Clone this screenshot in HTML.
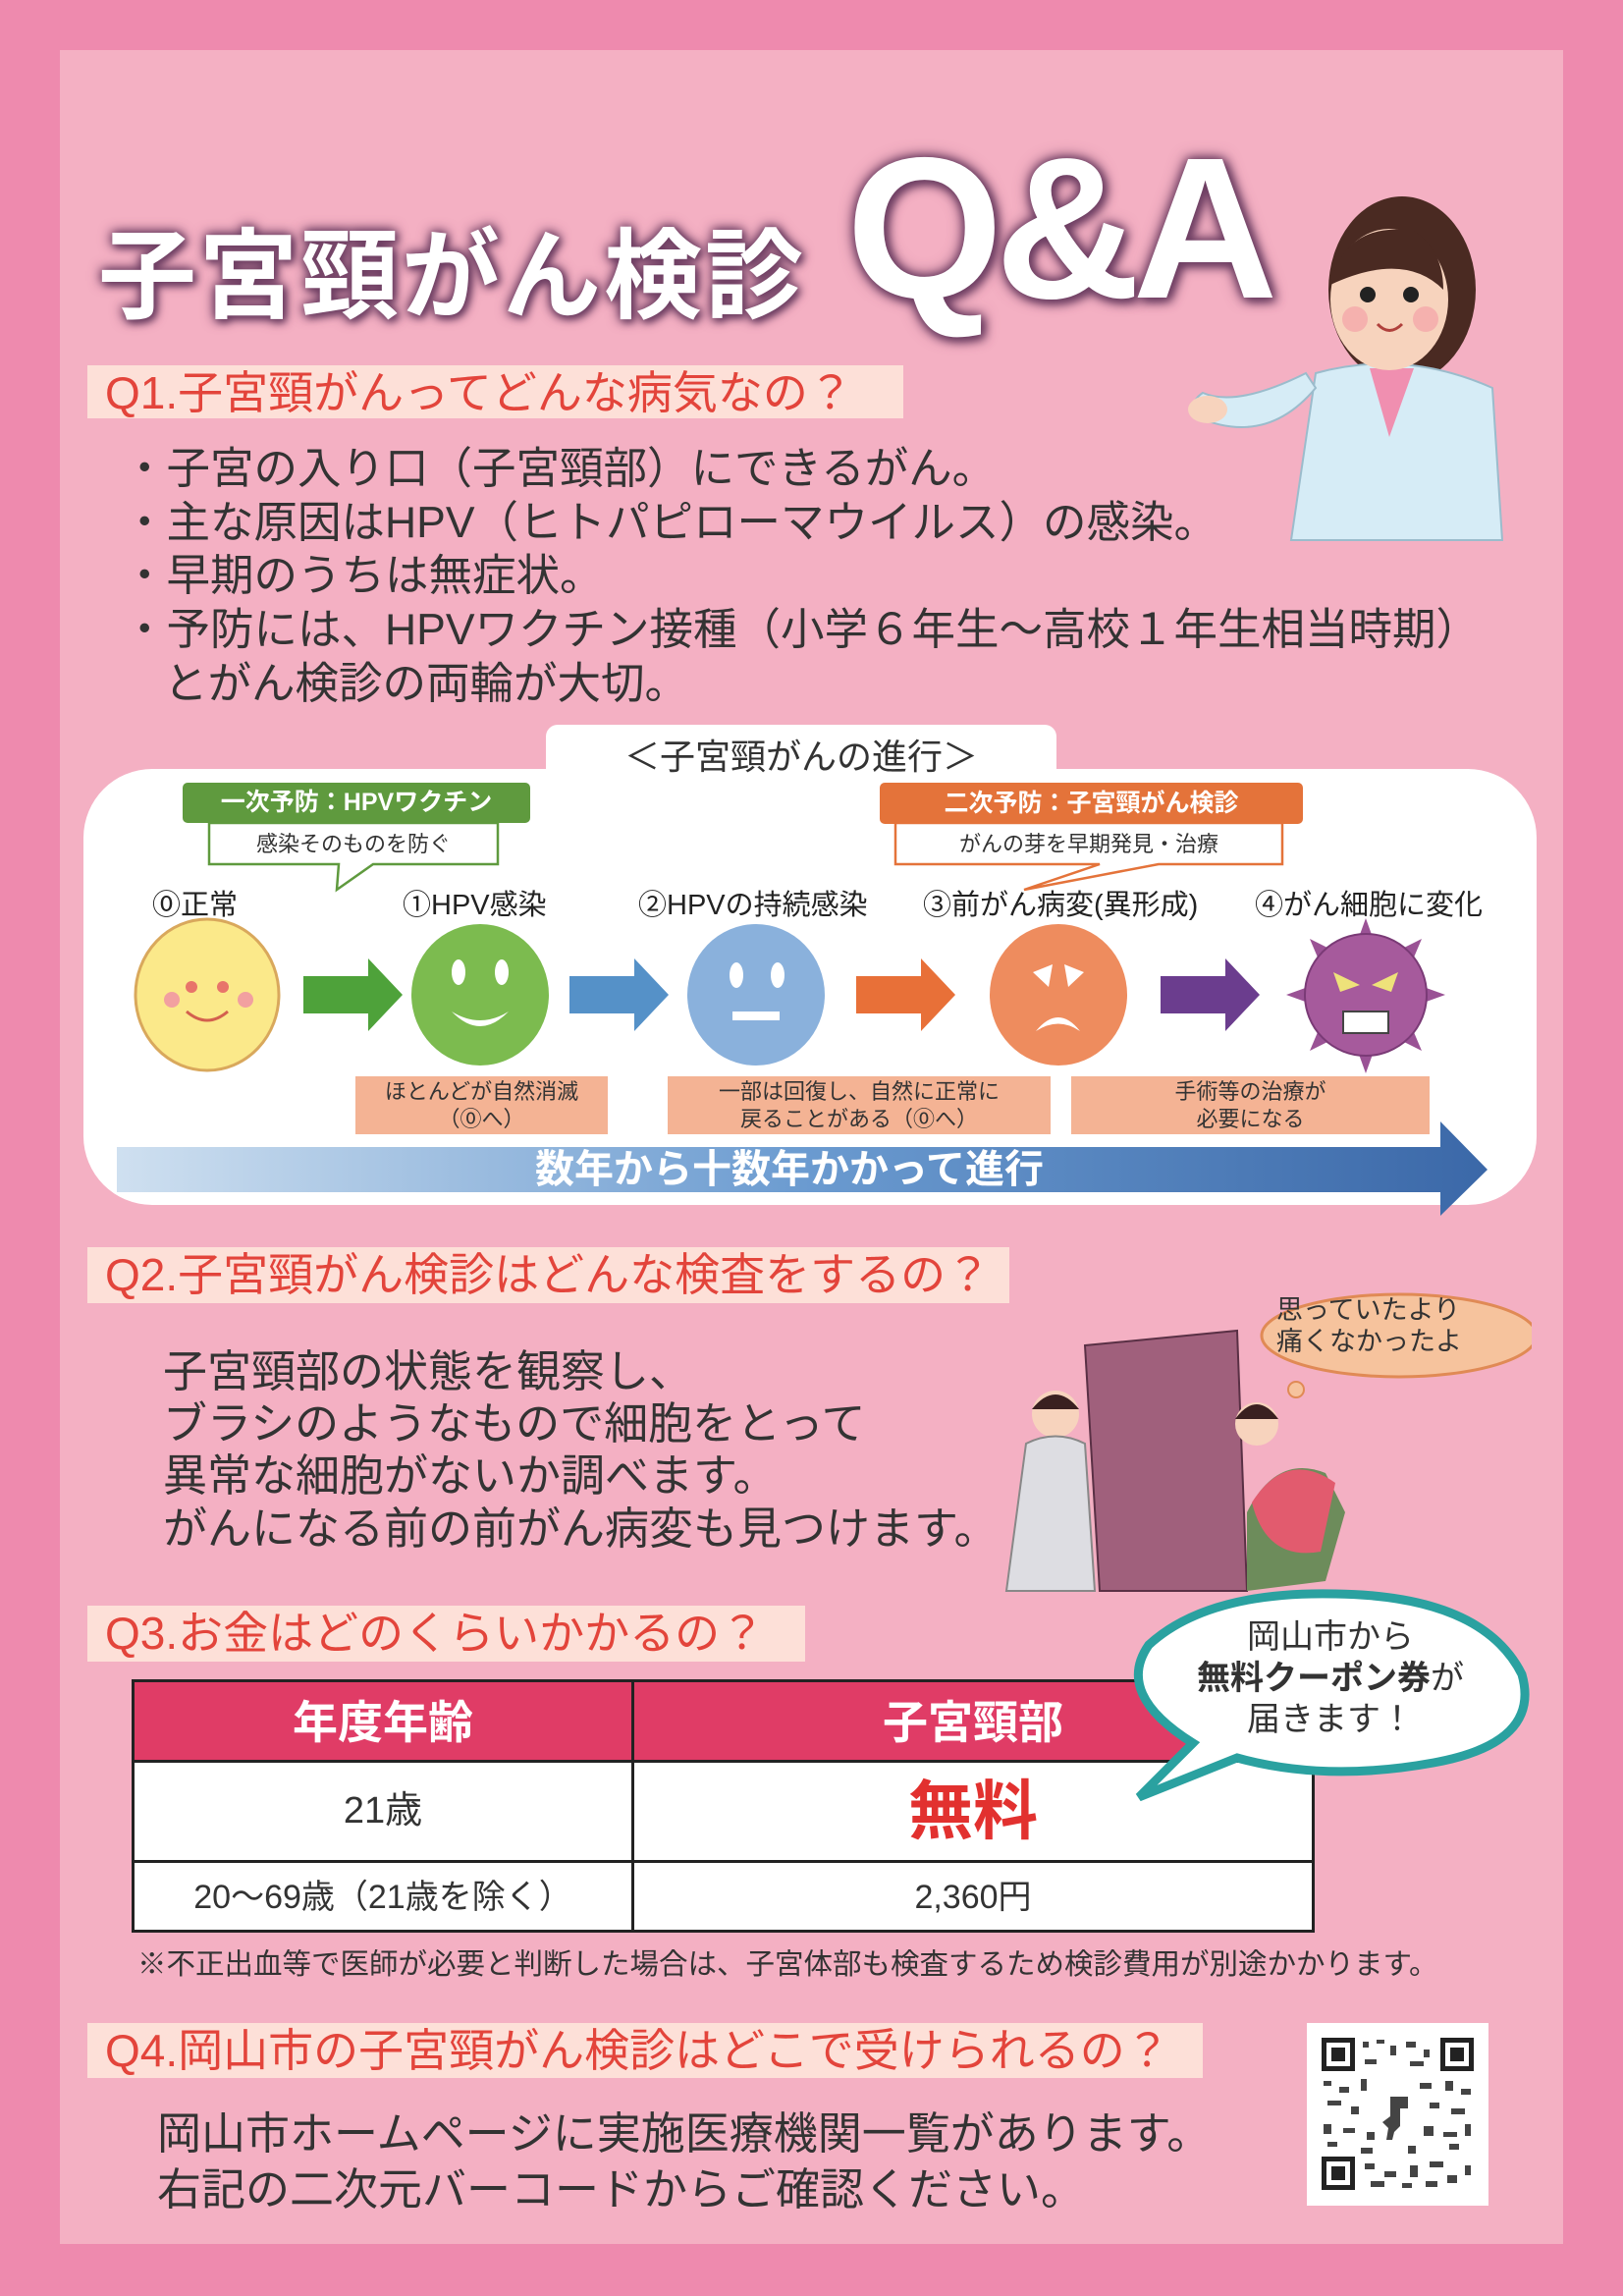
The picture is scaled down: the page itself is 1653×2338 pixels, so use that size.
<!DOCTYPE html>
<html><head><meta charset="utf-8">
<style>
*{margin:0;padding:0;box-sizing:border-box}
body{width:1653px;height:2338px;background:#ee8aae;position:relative;overflow:hidden;font-family:"Liberation Sans","Noto Sans CJK JP",sans-serif;color:#333}
.a{position:absolute;white-space:nowrap}
#panel{position:absolute;left:61px;top:51px;width:1531px;height:2234px;background:#f4b0c3}
.qh{position:absolute;background:#fde0d8;color:#e3443b;font-size:46px;line-height:56px;padding-left:18px}
.bl{font-size:44.5px;color:#333}
.t{font-size:45px;color:#333}
.stage{font-size:29px;color:#222}
.peach{position:absolute;background:#f4b394;color:#333;font-size:22px;text-align:center;line-height:28px;display:flex;align-items:center;justify-content:center}
</style></head><body>
<div id="panel"></div>

<!-- Title -->
<div class="a" style="left:100px;top:200px;font-size:100px;font-weight:bold;color:#fff;text-shadow:0 0 10px #6e3f63,0 0 14px #6e3f63,3px 3px 8px #6e3f63;letter-spacing:3px">子宮頸がん検診</div>
<div class="a" style="left:862px;top:130px;font-size:205px;font-weight:bold;color:#fff;line-height:205px;text-shadow:0 0 10px #6e3f63,0 0 16px #6e3f63,4px 4px 10px #6e3f63;letter-spacing:-8px">Q&amp;A</div>

<!-- doctor -->
<svg class="a" style="left:1200px;top:195px" width="340" height="360" viewBox="0 0 340 360">
<ellipse cx="228" cy="100" rx="75" ry="95" fill="#4a2a22"/>
<path d="M140 185 L115 355 L330 355 L320 200 Q230 160 140 185Z" fill="#d6ecf6" stroke="#9bbccc" stroke-width="2"/>
<path d="M195 180 L215 250 L240 180Z" fill="#f08fb0"/>
<ellipse cx="215" cy="110" rx="60" ry="72" fill="#f7d3bd"/>
<path d="M155 95 Q170 30 240 40 Q270 60 270 100 Q230 60 155 95Z" fill="#4a2a22"/>
<circle cx="193" cy="105" r="8" fill="#222"/><circle cx="237" cy="105" r="8" fill="#222"/>
<circle cx="180" cy="130" r="13" fill="#f3a3a8" opacity=".7"/><circle cx="252" cy="130" r="13" fill="#f3a3a8" opacity=".7"/>
<path d="M203 135 Q215 148 228 135" stroke="#b0403c" stroke-width="3" fill="none"/>
<path d="M140 200 Q90 260 20 230 Q10 215 25 205 Q60 220 130 185Z" fill="#d6ecf6" stroke="#9bbccc" stroke-width="2"/>
<ellipse cx="30" cy="222" rx="20" ry="14" fill="#f7d3bd"/>
</svg>

<!-- Q1 -->
<div class="qh" style="left:89px;top:372px;width:831px;height:54px">Q1.子宮頸がんってどんな病気なの？</div>
<div class="a bl" style="left:125px;top:440px">・子宮の入り口（子宮頸部）にできるがん。</div>
<div class="a bl" style="left:125px;top:495px">・主な原因はHPV（ヒトパピローマウイルス）の感染。</div>
<div class="a bl" style="left:125px;top:549px">・早期のうちは無症状。</div>
<div class="a bl" style="left:125px;top:604px">・予防には、HPVワクチン接種（小学６年生～高校１年生相当時期）</div>
<div class="a bl" style="left:167px;top:659px">とがん検診の両輪が大切。</div>

<!-- progression box -->
<div class="a" style="left:556px;top:738px;width:520px;height:70px;background:#fff;border-radius:12px 12px 0 0"></div>
<div class="a" style="left:85px;top:783px;width:1480px;height:444px;background:#fff;border-radius:70px"></div>
<div class="a" style="left:556px;top:742px;width:520px;text-align:center;font-size:36px;color:#333">＜子宮頸がんの進行＞</div>

<svg class="a" style="left:0;top:0" width="1653" height="1260">
<path d="M213 838 L507 838 L507 880 L380 880 L343 906 L345 880 L213 880Z" fill="#fff" stroke="#5f9a3e" stroke-width="2.5"/>
<rect x="186" y="797" width="354" height="41" rx="5" fill="#5f9a3e"/>
<path d="M912 838 L1306 838 L1306 880 L1180 880 L1043 906 L1120 880 L912 880Z" fill="#fff" stroke="#e4733a" stroke-width="2.5"/>
<rect x="896" y="797" width="431" height="42" rx="5" fill="#e4733a"/>
<path d="M309 994 L375 994 L375 976 L410 1013 L375 1050 L375 1032 L309 1032Z" fill="#4ea23a"/>
<path d="M580 994 L646 994 L646 976 L681 1013 L646 1050 L646 1032 L580 1032Z" fill="#5591c8"/>
<path d="M872 994 L938 994 L938 976 L973 1013 L938 1050 L938 1032 L872 1032Z" fill="#e87038"/>
<path d="M1182 994 L1248 994 L1248 976 L1283 1013 L1248 1050 L1248 1032 L1182 1032Z" fill="#6b3d8e"/>
<ellipse cx="211" cy="1013" rx="73" ry="77" fill="#fbe98a" stroke="#d9a85c" stroke-width="3"/>
<circle cx="175" cy="1018" r="8" fill="#f2a0a0"/><circle cx="250" cy="1018" r="8" fill="#f2a0a0"/>
<circle cx="195" cy="1005" r="6" fill="#e8746a"/><circle cx="227" cy="1005" r="6" fill="#e8746a"/>
<path d="M190 1030 Q211 1048 232 1030" stroke="#d3604e" stroke-width="3" fill="none"/>
<ellipse cx="489" cy="1013" rx="70" ry="72" fill="#7cbb4f"/>
<ellipse cx="467" cy="990" rx="7" ry="13" fill="#fff"/><ellipse cx="511" cy="990" rx="7" ry="13" fill="#fff"/>
<path d="M460 1030 Q489 1060 518 1030 Q489 1048 460 1030Z" fill="#fff"/>
<ellipse cx="770" cy="1013" rx="70" ry="72" fill="#8ab1dc"/>
<ellipse cx="750" cy="993" rx="7" ry="13" fill="#fff"/><ellipse cx="792" cy="993" rx="7" ry="13" fill="#fff"/>
<rect x="746" y="1030" width="48" height="9" fill="#fff"/>
<ellipse cx="1078" cy="1013" rx="70" ry="72" fill="#ee8c5e"/>
<path d="M1052 990 L1072 982 L1068 1005Z M1104 990 L1084 982 L1088 1005Z" fill="#fff"/>
<path d="M1055 1050 Q1078 1022 1100 1050 Q1078 1035 1055 1050Z" fill="#fff"/>
<g fill="#9a5295">
<polygon points="1391,935 1400,960 1382,960"/><polygon points="1391,1093 1400,1068 1382,1068"/>
<polygon points="1310,1013 1335,1004 1335,1022"/><polygon points="1472,1013 1447,1004 1447,1022"/>
<polygon points="1334,956 1358,968 1345,982"/><polygon points="1448,956 1424,968 1437,982"/>
<polygon points="1334,1070 1358,1058 1345,1044"/><polygon points="1448,1070 1424,1058 1437,1044"/>
</g>
<circle cx="1391" cy="1013" r="62" fill="#a65a9c" stroke="#7a3a76" stroke-width="2"/>
<path d="M1358 990 L1385 1003 L1365 1010Z M1424 990 L1397 1003 L1417 1010Z" fill="#eee27a"/>
<rect x="1368" y="1030" width="46" height="22" fill="#fff" stroke="#444" stroke-width="2"/>
<defs><linearGradient id="g" x1="0" x2="1"><stop offset="0" stop-color="#cfe0f0"/><stop offset=".5" stop-color="#6b9bd0"/><stop offset="1" stop-color="#3b68a8"/></linearGradient></defs>
<path d="M119 1168 L1467 1168 L1467 1142 L1515 1191 L1467 1238 L1467 1214 L119 1214Z" fill="url(#g)"/>
</svg>
<div class="a" style="left:186px;top:797px;width:354px;line-height:41px;text-align:center;color:#fff;font-weight:bold;font-size:25px">一次予防：HPVワクチン</div>
<div class="a" style="left:213px;top:840px;width:294px;line-height:40px;text-align:center;font-size:22px">感染そのものを防ぐ</div>
<div class="a" style="left:896px;top:797px;width:431px;line-height:42px;text-align:center;color:#fff;font-weight:bold;font-size:25px">二次予防：子宮頸がん検診</div>
<div class="a" style="left:912px;top:840px;width:394px;line-height:40px;text-align:center;font-size:22px">がんの芽を早期発見・治療</div>

<div class="a stage" style="left:155px;top:898px">⓪正常</div>
<div class="a stage" style="left:410px;top:898px">①HPV感染</div>
<div class="a stage" style="left:650px;top:898px">②HPVの持続感染</div>
<div class="a stage" style="left:940px;top:898px">③前がん病変(異形成)</div>
<div class="a stage" style="left:1278px;top:898px">④がん細胞に変化</div>

<div class="peach" style="left:362px;top:1096px;width:257px;height:59px">ほとんどが自然消滅<br>（⓪へ）</div>
<div class="peach" style="left:680px;top:1096px;width:390px;height:59px">一部は回復し、自然に正常に<br>戻ることがある（⓪へ）</div>
<div class="peach" style="left:1091px;top:1096px;width:365px;height:59px">手術等の治療が<br>必要になる</div>
<div class="a" style="left:545px;top:1167px;font-size:40px;font-weight:bold;color:#fff;line-height:48px">数年から十数年かかって進行</div>

<!-- Q2 -->
<div class="qh" style="left:89px;top:1270px;width:939px;height:57px;line-height:57px">Q2.子宮頸がん検診はどんな検査をするの？</div>
<div class="a t" style="left:166px;top:1360px">子宮頸部の状態を観察し、</div>
<div class="a t" style="left:166px;top:1413px">ブラシのようなもので細胞をとって</div>
<div class="a t" style="left:166px;top:1466px">異常な細胞がないか調べます。</div>
<div class="a t" style="left:166px;top:1520px">がんになる前の前がん病変も見つけます。</div>
<svg class="a" style="left:1020px;top:1300px" width="540" height="330" viewBox="0 0 540 330">
<ellipse cx="405" cy="60" rx="140" ry="42" fill="#f6c39d" stroke="#e08a55" stroke-width="3"/>
<circle cx="300" cy="115" r="8" fill="#f6c39d" stroke="#e08a55" stroke-width="2"/>
<path d="M85 70 L240 55 L250 320 L100 320Z" fill="#a0607c" stroke="#5a3045" stroke-width="2"/>
<path d="M250 240 Q280 180 330 200 L350 240 L330 310 L250 320Z" fill="#6d8c5b"/>
<path d="M255 230 Q290 175 340 210 L325 280 Q270 290 255 230Z" fill="#e25b6e"/>
<circle cx="260" cy="150" r="22" fill="#f7d3bd"/><path d="M238 145 Q260 115 282 145Z" fill="#3a2020"/>
<circle cx="55" cy="140" r="24" fill="#f7d3bd"/><path d="M31 135 Q55 105 79 135Z" fill="#3a2020"/>
<path d="M25 170 Q55 155 85 170 L95 320 L5 320Z" fill="#dddde2" stroke="#888" stroke-width="2"/>
</svg>
<div class="a" style="left:1300px;top:1318px;font-size:27px;line-height:32px;color:#333">思っていたより<br>痛くなかったよ</div>

<!-- Q3 -->
<div class="qh" style="left:89px;top:1635px;width:731px;height:57px;line-height:57px">Q3.お金はどのくらいかかるの？</div>
<div class="a" style="left:134px;top:1710px;width:1205px;height:258px;border:3px solid #222;background:#fff"></div>
<div class="a" style="left:137px;top:1713px;width:1199px;height:79px;background:#e03c66"></div>
<div class="a" style="left:643px;top:1710px;width:3px;height:258px;background:#222"></div>
<div class="a" style="left:134px;top:1792px;width:1205px;height:3px;background:#222"></div>
<div class="a" style="left:134px;top:1894px;width:1205px;height:3px;background:#222"></div>
<div class="a" style="left:137px;top:1716px;width:506px;text-align:center;font-size:46px;line-height:76px;color:#fff;font-weight:bold">年度年齢</div>
<div class="a" style="left:646px;top:1716px;width:690px;text-align:center;font-size:46px;line-height:76px;color:#fff;font-weight:bold">子宮頸部</div>
<div class="a" style="left:137px;top:1795px;width:506px;text-align:center;font-size:38px;line-height:99px">21歳</div>
<div class="a" style="left:646px;top:1795px;width:690px;text-align:center;font-size:66px;line-height:99px;color:#e2312f;font-weight:bold">無料</div>
<div class="a" style="left:137px;top:1897px;width:506px;text-align:center;font-size:34px;line-height:70px">20～69歳（21歳を除く）</div>
<div class="a" style="left:646px;top:1897px;width:690px;text-align:center;font-size:34px;line-height:70px">2,360円</div>
<svg class="a" style="left:1130px;top:1615px" width="450" height="230">
<path d="M30 215 L85 160 Q5 110 40 60 Q100 5 230 8 Q380 10 420 90 Q440 160 330 180 Q220 200 130 175Z" fill="#fff" stroke="#2aa1a0" stroke-width="9"/>
</svg>
<div class="a" style="left:1190px;top:1646px;width:330px;text-align:center;font-size:34px;line-height:42px;color:#333">岡山市から<br><b>無料クーポン券</b>が<br>届きます！</div>
<div class="a" style="left:140px;top:1977px;font-size:29.5px;color:#333">※不正出血等で医師が必要と判断した場合は、子宮体部も検査するため検診費用が別途かかります。</div>

<!-- Q4 -->
<div class="qh" style="left:89px;top:2060px;width:1136px;height:56px">Q4.岡山市の子宮頸がん検診はどこで受けられるの？</div>
<div class="a t" style="left:160px;top:2136px">岡山市ホームページに実施医療機関一覧があります。</div>
<div class="a t" style="left:160px;top:2193px">右記の二次元バーコードからご確認ください。</div>
<div class="a" style="left:1331px;top:2060px;width:185px;height:186px;background:#fff"></div>
<svg class="a" style="left:1346px;top:2075px" width="155" height="155">
<g fill="#222">
<rect x="0" y="0" width="34" height="34"/><rect x="121" y="0" width="34" height="34"/><rect x="0" y="121" width="34" height="34"/>
</g>
<g fill="#fff"><rect x="5" y="5" width="24" height="24"/><rect x="126" y="5" width="24" height="24"/><rect x="5" y="126" width="24" height="24"/></g>
<g fill="#222"><rect x="10" y="10" width="14" height="14"/><rect x="131" y="10" width="14" height="14"/><rect x="10" y="131" width="14" height="14"/></g>
<g fill="#444">
<rect x="42" y="4" width="6" height="6"/><rect x="56" y="2" width="8" height="4"/><rect x="70" y="8" width="6" height="10"/><rect x="86" y="4" width="10" height="6"/><rect x="104" y="12" width="6" height="8"/>
<rect x="44" y="22" width="12" height="5"/><rect x="90" y="24" width="14" height="5"/>
<rect x="2" y="44" width="8" height="5"/><rect x="18" y="50" width="10" height="6"/><rect x="40" y="42" width="6" height="12"/><rect x="100" y="46" width="12" height="6"/><rect x="126" y="44" width="8" height="10"/><rect x="142" y="52" width="10" height="6"/>
<rect x="6" y="64" width="14" height="5"/><rect x="30" y="70" width="8" height="8"/><rect x="110" y="66" width="10" height="6"/><rect x="132" y="72" width="14" height="6"/>
<rect x="2" y="88" width="8" height="10"/><rect x="22" y="92" width="12" height="5"/><rect x="46" y="96" width="8" height="8"/><rect x="104" y="90" width="10" height="10"/><rect x="124" y="96" width="14" height="5"/><rect x="146" y="88" width="6" height="12"/>
<rect x="6" y="106" width="10" height="5"/><rect x="40" y="112" width="12" height="6"/><rect x="88" y="110" width="8" height="8"/><rect x="130" y="108" width="10" height="6"/>
<rect x="44" y="128" width="10" height="6"/><rect x="64" y="136" width="12" height="6"/><rect x="90" y="130" width="8" height="12"/><rect x="110" y="126" width="14" height="6"/><rect x="128" y="140" width="10" height="8"/><rect x="146" y="130" width="6" height="10"/>
<rect x="50" y="146" width="14" height="6"/><rect x="82" y="148" width="10" height="5"/><rect x="106" y="146" width="12" height="6"/>
<path d="M70 60 L88 60 L88 72 L80 72 L80 90 L74 96 L72 104 L66 104 L68 92 L62 86 L70 80Z"/>
</g>
</svg>
</body></html>
